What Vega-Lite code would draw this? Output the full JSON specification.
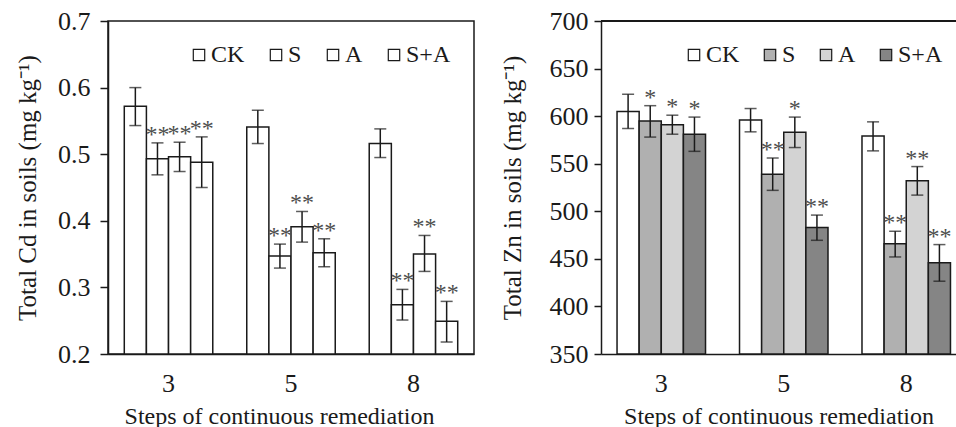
{
  "$schema": "https://vega.github.io/schema/vega-lite/v6.json",
  "padding": {"left": 14, "top": 7, "right": 0, "bottom": 0},
  "background": "white",
  "config": {
    "font": "Liberation Serif",
    "view": {"stroke": null},
    "axis": {"labelFont": "Liberation Serif", "titleFont": "Liberation Serif", "labelColor": "#1a1a1a", "titleColor": "#1a1a1a", "titleFontWeight": "normal", "domainColor": "#1a1a1a", "tickColor": "#1a1a1a", "domainWidth": 1.5, "tickWidth": 1.5, "grid": false, "labelFontSize": 26, "titleFontSize": 24}
  },
  "datasets": {
    "cd": [
      {"step": "3", "trt": "CK", "v": 0.572, "lo": 0.543, "hi": 0.600, "sig": ""},
      {"step": "3", "trt": "S", "v": 0.493, "lo": 0.469, "hi": 0.517, "sig": "**"},
      {"step": "3", "trt": "A", "v": 0.496, "lo": 0.474, "hi": 0.518, "sig": "**"},
      {"step": "3", "trt": "S+A", "v": 0.488, "lo": 0.450, "hi": 0.526, "sig": "**"},
      {"step": "5", "trt": "CK", "v": 0.541, "lo": 0.516, "hi": 0.566, "sig": ""},
      {"step": "5", "trt": "S", "v": 0.347, "lo": 0.329, "hi": 0.365, "sig": "**"},
      {"step": "5", "trt": "A", "v": 0.391, "lo": 0.368, "hi": 0.414, "sig": "**"},
      {"step": "5", "trt": "S+A", "v": 0.352, "lo": 0.331, "hi": 0.373, "sig": "**"},
      {"step": "8", "trt": "CK", "v": 0.516, "lo": 0.495, "hi": 0.538, "sig": ""},
      {"step": "8", "trt": "S", "v": 0.274, "lo": 0.251, "hi": 0.297, "sig": "**"},
      {"step": "8", "trt": "A", "v": 0.350, "lo": 0.324, "hi": 0.378, "sig": "**"},
      {"step": "8", "trt": "S+A", "v": 0.249, "lo": 0.218, "hi": 0.279, "sig": "**"}
    ],
    "zn": [
      {"step": "3", "trt": "CK", "v": 605, "lo": 587, "hi": 623, "sig": ""},
      {"step": "3", "trt": "S", "v": 595, "lo": 578, "hi": 611, "sig": "*"},
      {"step": "3", "trt": "A", "v": 591, "lo": 581, "hi": 601, "sig": "*"},
      {"step": "3", "trt": "S+A", "v": 581, "lo": 563, "hi": 599, "sig": "*"},
      {"step": "5", "trt": "CK", "v": 596, "lo": 583.5, "hi": 608, "sig": ""},
      {"step": "5", "trt": "S", "v": 539, "lo": 522, "hi": 556, "sig": "**"},
      {"step": "5", "trt": "A", "v": 583, "lo": 567, "hi": 599, "sig": "*"},
      {"step": "5", "trt": "S+A", "v": 483, "lo": 469.5, "hi": 496, "sig": "**"},
      {"step": "8", "trt": "CK", "v": 579, "lo": 563.5, "hi": 594, "sig": ""},
      {"step": "8", "trt": "S", "v": 466, "lo": 452, "hi": 479, "sig": "**"},
      {"step": "8", "trt": "A", "v": 532, "lo": 517, "hi": 547, "sig": "**"},
      {"step": "8", "trt": "S+A", "v": 446, "lo": 426.5, "hi": 465, "sig": "**"}
    ]
  },
  "spacing": 25,
  "resolve": {"scale": {"fill": "independent", "y": "independent", "x": "independent"}, "legend": {"fill": "independent"}},
  "hconcat": [
    {
      "width": 366,
      "height": 333,
      "data": {"name": "cd"},
      "view": {"stroke": "#1a1a1a", "strokeWidth": 1.5},
      "encoding": {
        "x": {"field": "step", "type": "ordinal", "scale": {"paddingInner": 0.2775, "paddingOuter": 0.133}, "axis": {"title": "Steps of continuous remediation", "labelAngle": 0, "ticks": false, "labelPadding": 16, "titlePadding": 8, "titleX": 171, "titleAlign": "center"}},
        "xOffset": {"field": "trt", "type": "nominal", "sort": ["CK", "S", "A", "S+A"], "scale": {"paddingInner": 0, "paddingOuter": 0}}
      },
      "layer": [
        {
          "mark": {"type": "bar", "stroke": "#1a1a1a", "strokeWidth": 1.5},
          "encoding": {
            "y": {"field": "v", "type": "quantitative", "scale": {"domain": [0.2, 0.7], "nice": false, "zero": false}, "axis": {"title": "Total Cd in soils (mg kg⁻¹)", "titleFontSize": 25, "values": [0.2, 0.3, 0.4, 0.5, 0.6, 0.7], "format": ".1f", "tickSize": 8, "labelPadding": 10, "titlePadding": 17}},
            "y2": {"datum": 0.2},
            "fill": {"field": "trt", "type": "nominal", "sort": ["CK", "S", "A", "S+A"], "scale": {"domain": ["CK", "S", "A", "S+A"], "range": ["white", "white", "white", "white"]},
              "legend": {"title": null, "orient": "none", "legendX": 79, "legendY": 22, "direction": "horizontal", "symbolType": "square", "symbolSize": 130, "symbolStrokeColor": "#1a1a1a", "symbolStrokeWidth": 1.2, "labelFont": "Liberation Serif", "labelFontSize": 24, "labelColor": "#1a1a1a", "labelOffset": 0, "columnPadding": 19, "labelLimit": 0}}
          }
        },
        {
          "mark": {"type": "rule", "stroke": "#1a1a1a", "strokeWidth": 1.5},
          "encoding": {"y": {"field": "lo", "type": "quantitative"}, "y2": {"field": "hi"}}
        },
        {
          "mark": {"type": "tick", "color": "#1a1a1a", "thickness": 1.5, "size": 12, "orient": "horizontal"},
          "encoding": {"y": {"field": "lo", "type": "quantitative"}}
        },
        {
          "mark": {"type": "tick", "color": "#1a1a1a", "thickness": 1.5, "size": 12, "orient": "horizontal"},
          "encoding": {"y": {"field": "hi", "type": "quantitative"}}
        },
        {
          "mark": {"type": "text", "baseline": "alphabetic", "dy": -1, "fontSize": 24, "color": "#4d4d4d", "font": "Liberation Serif"},
          "encoding": {"y": {"field": "hi", "type": "quantitative"}, "text": {"field": "sig"}}
        }
      ]
    },
    {
      "width": 355,
      "height": 333,
      "data": {"name": "zn"},
      "layer": [
        {
          "encoding": {
            "x": {"field": "step", "type": "ordinal", "scale": {"paddingInner": 0.2775, "paddingOuter": 0.088, "align": 0.744}, "axis": {"title": "Steps of continuous remediation", "labelAngle": 0, "ticks": false, "labelPadding": 16, "titlePadding": 8}},
            "xOffset": {"field": "trt", "type": "nominal", "sort": ["CK", "S", "A", "S+A"], "scale": {"paddingInner": 0, "paddingOuter": 0}}
          },
          "layer": [
            {
              "mark": {"type": "bar", "stroke": "#1a1a1a", "strokeWidth": 1.5},
              "encoding": {
                "y": {"field": "v", "type": "quantitative", "scale": {"domain": [350, 700], "nice": false, "zero": false}, "axis": {"title": "Total Zn in soils (mg kg⁻¹)", "titleFontSize": 25, "values": [350, 400, 450, 500, 550, 600, 650, 700], "tickSize": 7, "labelPadding": 6, "titlePadding": 24}},
                "y2": {"datum": 350},
                "fill": {
                  "field": "trt", "type": "nominal", "sort": ["CK", "S", "A", "S+A"],
                  "scale": {"domain": ["CK", "S", "A", "S+A"], "range": ["white", "#b0b0b0", "#d3d3d3", "#858585"]},
                  "legend": {"title": null, "orient": "none", "legendX": 81, "legendY": 22, "direction": "horizontal", "symbolType": "square", "symbolSize": 130, "symbolStrokeColor": "#1a1a1a", "symbolStrokeWidth": 1.2, "labelFont": "Liberation Serif", "labelFontSize": 24, "labelColor": "#1a1a1a", "labelOffset": 0, "columnPadding": 18, "labelLimit": 0}
                }
              }
            },
            {
              "mark": {"type": "rule", "stroke": "#1a1a1a", "strokeWidth": 1.5},
              "encoding": {"y": {"field": "lo", "type": "quantitative"}, "y2": {"field": "hi"}}
            },
            {
              "mark": {"type": "tick", "color": "#1a1a1a", "thickness": 1.5, "size": 12, "orient": "horizontal"},
              "encoding": {"y": {"field": "lo", "type": "quantitative"}}
            },
            {
              "mark": {"type": "tick", "color": "#1a1a1a", "thickness": 1.5, "size": 12, "orient": "horizontal"},
              "encoding": {"y": {"field": "hi", "type": "quantitative"}}
            },
            {
              "mark": {"type": "text", "baseline": "alphabetic", "dy": -1, "fontSize": 24, "color": "#4d4d4d", "font": "Liberation Serif"},
              "encoding": {"y": {"field": "hi", "type": "quantitative"}, "text": {"field": "sig"}}
            }
          ]
        },
        {
          "mark": {"type": "rule", "stroke": "#1a1a1a", "strokeWidth": 1.5},
          "encoding": {"y": {"datum": 700}}
        }
      ]
    }
  ]
}
